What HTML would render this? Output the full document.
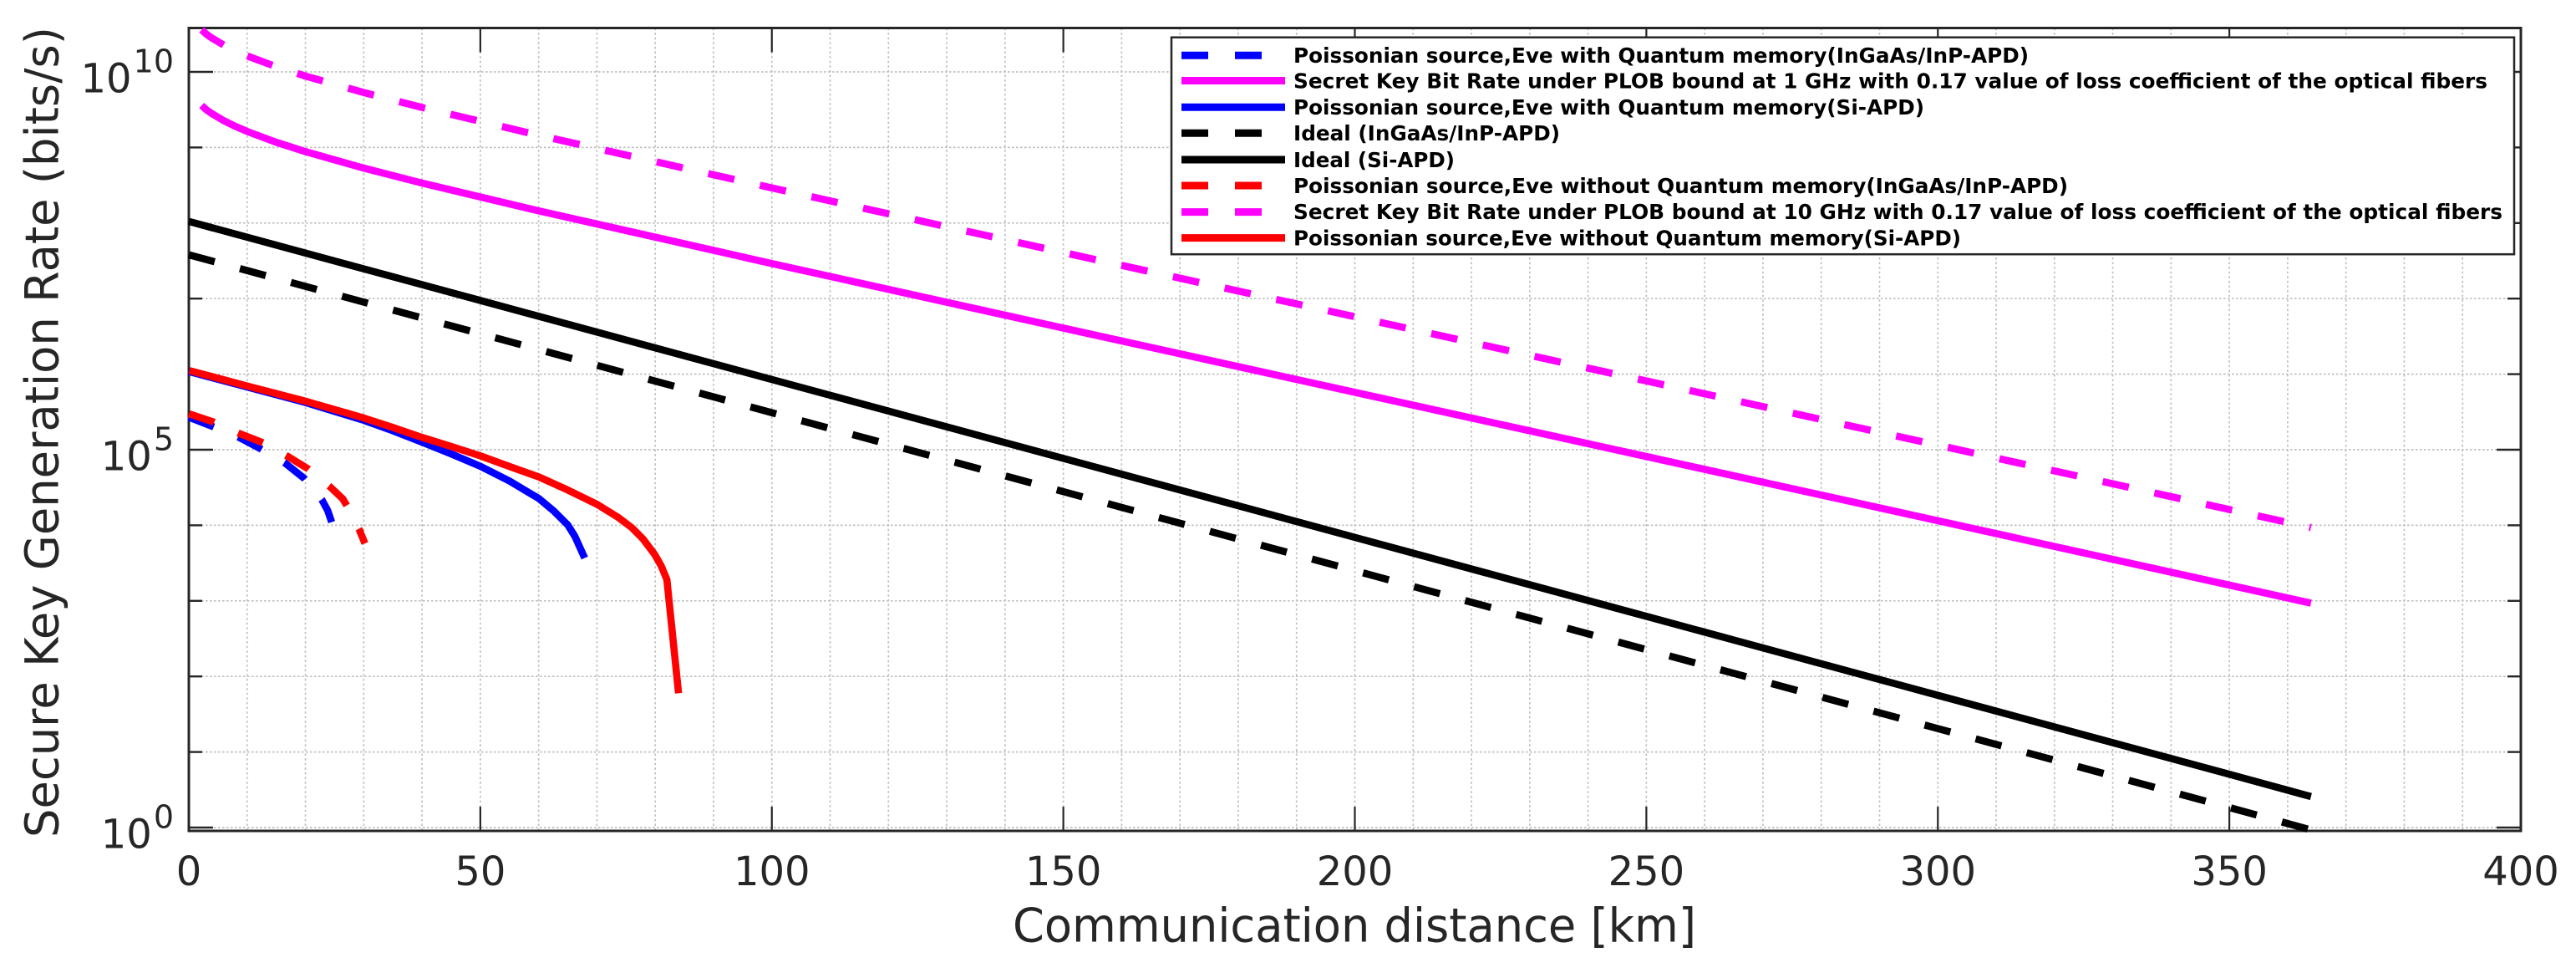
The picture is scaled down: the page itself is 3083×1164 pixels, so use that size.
<!DOCTYPE html>
<html lang="en">
<head>
<meta charset="utf-8">
<title>Secure Key Generation Rate vs Communication Distance</title>
<style>
html,body{margin:0;padding:0;background:#fff;}
body{width:3083px;height:1164px;overflow:hidden;}
svg{display:block;}
text{font-family:"DejaVu Sans","Liberation Sans",sans-serif;fill:#262626;}
.legend-text{font-weight:bold;font-size:24.8px;fill:#000;}
</style>
</head>
<body>
<svg id="chart" xmlns="http://www.w3.org/2000/svg" width="3083" height="1164" viewBox="0 0 3083 1164">
  <rect x="226" y="33.5" width="2791" height="960.5" fill="#fff"/>
  <g id="grid"></g>
  <g id="axes"></g>
  <g id="series"></g>

  <g>
    <rect x="1402" y="44.7" width="1607" height="259.5" fill="#fff" stroke="#262626" stroke-width="2.5"/>

    <line x1="1414" x2="1538" y1="66.3" y2="66.3" stroke="#0000ff" stroke-width="9" stroke-dasharray="32 32"/>
    <text class="legend-text" x="1548" y="75" textLength="880" lengthAdjust="spacingAndGlyphs">Poissonian source,Eve with Quantum memory(InGaAs/InP-APD)</text>

    <line x1="1414" x2="1538" y1="96.5" y2="96.5" stroke="#ff00ff" stroke-width="9"/>
    <text class="legend-text" x="1548" y="105.7" textLength="1429" lengthAdjust="spacingAndGlyphs">Secret Key Bit Rate under PLOB bound at 1 GHz with 0.17 value of loss coefficient of the optical fibers</text>

    <line x1="1414" x2="1538" y1="128.3" y2="128.3" stroke="#0000ff" stroke-width="9"/>
    <text class="legend-text" x="1548" y="137" textLength="755" lengthAdjust="spacingAndGlyphs">Poissonian source,Eve with Quantum memory(Si-APD)</text>

    <line x1="1414" x2="1538" y1="159.3" y2="159.3" stroke="#000" stroke-width="9" stroke-dasharray="32 32"/>
    <text class="legend-text" x="1548" y="168" textLength="319" lengthAdjust="spacingAndGlyphs">Ideal (InGaAs/InP-APD)</text>

    <line x1="1414" x2="1538" y1="191" y2="191" stroke="#000" stroke-width="9"/>
    <text class="legend-text" x="1548" y="200" textLength="193" lengthAdjust="spacingAndGlyphs">Ideal (Si-APD)</text>

    <line x1="1414" x2="1538" y1="222" y2="222" stroke="#ff0000" stroke-width="9" stroke-dasharray="32 32"/>
    <text class="legend-text" x="1548" y="231" textLength="927" lengthAdjust="spacingAndGlyphs">Poissonian source,Eve without Quantum memory(InGaAs/InP-APD)</text>

    <line x1="1414" x2="1538" y1="253.6" y2="253.6" stroke="#ff00ff" stroke-width="9" stroke-dasharray="32 32"/>
    <text class="legend-text" x="1548" y="262" textLength="1447" lengthAdjust="spacingAndGlyphs">Secret Key Bit Rate under PLOB bound at 10 GHz with 0.17 value of loss coefficient of the optical fibers</text>

    <line x1="1414" x2="1538" y1="284.6" y2="284.6" stroke="#ff0000" stroke-width="9"/>
    <text class="legend-text" x="1548" y="293.5" textLength="799" lengthAdjust="spacingAndGlyphs">Poissonian source,Eve without Quantum memory(Si-APD)</text>
  </g>

  <text x="1212" y="1126.5" font-size="56" textLength="818" lengthAdjust="spacingAndGlyphs">Communication distance [km]</text>
  <text transform="translate(69.5 1002) rotate(-90)" x="0" y="0" font-size="55" textLength="970" lengthAdjust="spacingAndGlyphs">Secure Key Generation Rate (bits/s)</text>
</svg>

<script>
// Tick values and labels
const xMajorTicks = [0, 50, 100, 150, 200, 250, 300, 350, 400];
const xGridTicks = [0, 10, 20, 30, 40, 50, 60, 70, 80, 90, 100, 110, 120, 130, 140, 150, 160, 170, 180, 190, 200, 210, 220, 230, 240, 250, 260, 270, 280, 290, 300, 310, 320, 330, 340, 350, 360, 370, 380, 390, 400];
const yDecades = [0, 1, 2, 3, 4, 5, 6, 7, 8, 9, 10];
const yLabelledDecades = [0, 5, 10];

// Distances (km) and rates (bits/s)
const blueDashedKm = [0, 4, 8.5, 12.3, 16.4, 19.8, 22.8, 23.8, 24.5];
const blueDashedRate = [2.69e5, 2.04e5, 1.47e5, 1.03e5, 6.76e4, 4.17e4, 2.19e4, 1.58e4, 1.10e4];

const plob1GKm = [2.2, 3, 4, 6, 8, 10, 15, 20, 30, 40, 60, 100, 150, 200, 250, 300, 364];
const plob1GRate = [3.6e9, 3.16e9, 2.79e9, 2.26e9, 1.9e9, 1.63e9, 1.17e9, 8.81e8, 5.33e8, 3.38e8, 1.45e8, 2.91e7, 4.07e6, 5.75e5, 8.13e4, 1.15e4, 933];

const blueSolidKm = [0, 10, 20, 30, 35, 40, 45, 50, 55, 60, 62.6, 65, 66.2, 67.9];
const blueSolidRate = [1.084e6, 6.76e5, 4.22e5, 2.45e5, 1.78e5, 1.26e5, 8.8e4, 6.04e4, 3.85e4, 2.27e4, 1.545e4, 1.01e4, 7180, 3690];

const idealInGaAsKm = [0, 50, 100, 150, 200, 250, 300, 350, 364];
const idealInGaAsRate = [3.8e7, 3.43e6, 3.09e5, 2.79e4, 2510, 226, 20.4, 1.84, 0.93];

const idealSiKm = [0, 50, 100, 150, 200, 250, 300, 350, 364];
const idealSiRate = [1.05e8, 9.44e6, 8.5e5, 7.67e4, 6920, 624, 56.2, 5.07, 2.57];

const redDashedKm = [0, 4.3, 8.5, 12.8, 16.9, 20.4, 24.2, 26.4, 27.1, 29.2, 30.2];
const redDashedRate = [2.99e5, 2.32e5, 1.66e5, 1.23e5, 8.22e4, 5.62e4, 3.24e4, 2.24e4, 1.82e4, 8910, 5750];

const plob10GKm = [2.2, 3, 4, 6, 8, 10, 15, 20, 30, 40, 60, 100, 150, 200, 250, 300, 364];
const plob10GRate = [3.6e10, 3.16e10, 2.79e10, 2.26e10, 1.9e10, 1.63e10, 1.17e10, 8.81e9, 5.33e9, 3.38e9, 1.45e9, 2.91e8, 4.07e7, 5.75e6, 8.13e5, 1.15e5, 9330];

const redSolidKm = [0.1, 10, 20, 30, 35, 40, 45, 50, 55, 60, 65, 70, 73.6, 76, 77.9, 79.9, 81, 82, 84];
const redSolidRate = [1.114e6, 6.98e5, 4.39e5, 2.63e5, 1.97e5, 1.455e5, 1.104e5, 8.3e4, 6.0e4, 4.375e4, 2.93e4, 1.897e4, 1.279e4, 9270, 6590, 4120, 2930, 1910, 60];

// Axis functions
const plotLeft = 226, plotRight = 3017, plotTop = 33.5, plotBottom = 994;
const xMax = 400, decadeZeroY = 990, decadePx = 90.4;
function xScale(km) { return plotLeft + km / xMax * (plotRight - plotLeft); }
function yScale(rate) { return decadeZeroY - Math.log10(rate) * decadePx; }
function yDecade(d) { return decadeZeroY - d * decadePx; }

const NS = 'http://www.w3.org/2000/svg';
function make(parent, tag, attrs) {
  const el = document.createElementNS(NS, tag);
  for (const k in attrs) el.setAttribute(k, attrs[k]);
  parent.appendChild(el);
  return el;
}

const gridG = document.getElementById('grid');
const axesG = document.getElementById('axes');
const seriesG = document.getElementById('series');

// Grid
xGridTicks.forEach(function (t) {
  const l = make(gridG, 'line', {x1: xScale(t), x2: xScale(t), y1: plotTop, y2: plotBottom, stroke: '#c0c0c0', 'stroke-width': 1.7, 'stroke-dasharray': '2.6 3'});
  
  
});
yDecades.forEach(function (d) {
  const l = make(gridG, 'line', {x1: plotLeft, x2: plotRight, y1: yDecade(d), y2: yDecade(d), stroke: '#c0c0c0', 'stroke-width': 1.7, 'stroke-dasharray': '2.6 2.4'});
  
  
});

// Axes frame
const frame = make(axesG, 'rect', {x: plotLeft, y: plotTop, width: plotRight - plotLeft, height: plotBottom - plotTop, fill: 'none', stroke: '#262626', 'stroke-width': 3});



// X ticks and labels
xMajorTicks.forEach(function (t) {
  const x = xScale(t);
  const bottomTick = make(axesG, 'line', {x1: x, x2: x, y1: plotBottom, y2: plotBottom - 29, stroke: '#262626', 'stroke-width': 2.2});
  
  
  const topTick = make(axesG, 'line', {x1: x, x2: x, y1: plotTop, y2: plotTop + 29, stroke: '#262626', 'stroke-width': 2.2});
  
  
  const label = make(axesG, 'text', {x: x, y: 1059, 'font-size': 48, 'text-anchor': 'middle'});
  label.textContent = String(t);
  
  
});

// Y ticks and labels
yDecades.forEach(function (d) {
  const y = yDecade(d);
  const len = yLabelledDecades.indexOf(d) >= 0 ? 29 : 16;
  const leftTick = make(axesG, 'line', {x1: plotLeft, x2: plotLeft + len, y1: y, y2: y, stroke: '#262626', 'stroke-width': 2.4});
  
  
  const rightTick = make(axesG, 'line', {x1: plotRight, x2: plotRight - len, y1: y, y2: y, stroke: '#262626', 'stroke-width': 2.4});
  
  
});
yLabelledDecades.forEach(function (d) {
  const y = yDecade(d);
  const exponentText = String(d);
  const exponentWidth = exponentText.length * 24.2;
  const base = make(axesG, 'text', {x: 208 - exponentWidth - 2, y: y + 24.5, 'font-size': 48, 'text-anchor': 'end'});
  base.textContent = '10';
  
  
  const exponent = make(axesG, 'text', {x: 208, y: y + 0.5, 'font-size': 38, 'text-anchor': 'end'});
  exponent.textContent = exponentText;
  
  
});

// Series
function linePath(km, rate) {
  return km.map(function (d, i) {
    return (i ? 'L' : 'M') + xScale(d).toFixed(2) + ' ' + yScale(rate[i]).toFixed(2);
  }).join(' ');
}
function drawLine(km, rate, color, dash) {
  const attrs = {d: linePath(km, rate), fill: 'none', stroke: color, 'stroke-width': 8.6, 'stroke-linejoin': 'round', 'stroke-linecap': 'butt'};
  if (dash) attrs['stroke-dasharray'] = '32 31.3';
  return make(seriesG, 'path', attrs);
}

const s1 = drawLine(blueDashedKm, blueDashedRate, '#0000ff', true);


const s2 = drawLine(plob1GKm, plob1GRate, '#ff00ff', false);


const s3 = drawLine(blueSolidKm, blueSolidRate, '#0000ff', false);


const s4 = drawLine(idealInGaAsKm, idealInGaAsRate, '#000000', true);


const s5 = drawLine(idealSiKm, idealSiRate, '#000000', false);


const s6 = drawLine(redDashedKm, redDashedRate, '#ff0000', true);


const s7 = drawLine(plob10GKm, plob10GRate, '#ff00ff', true);


const s8 = drawLine(redSolidKm, redSolidRate, '#ff0000', false);


</script>
</body>
</html>
